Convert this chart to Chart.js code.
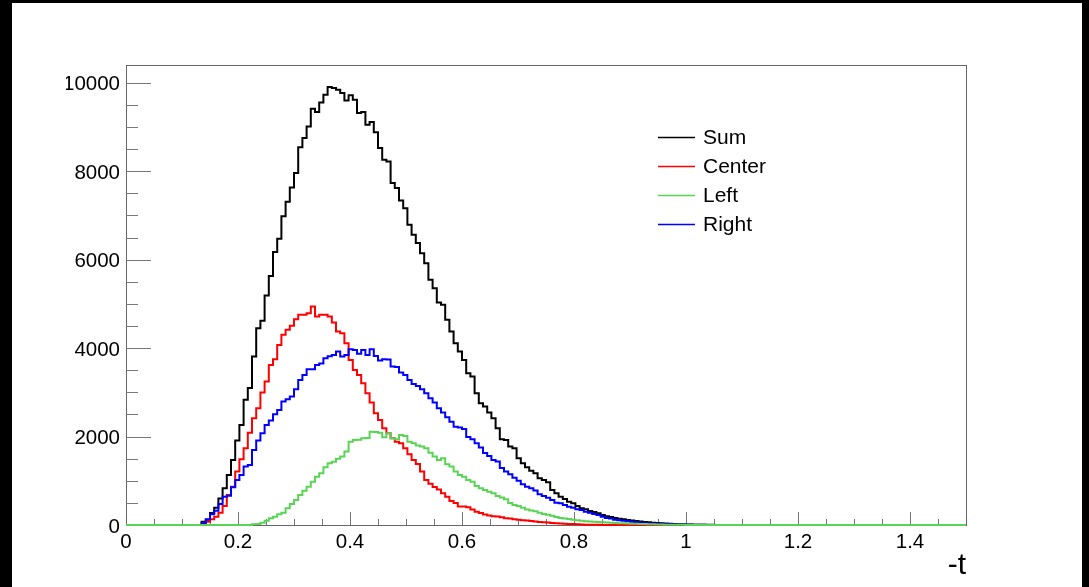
<!DOCTYPE html>
<html lang="en">
<head>
  <meta charset="UTF-8">
  <title>-t distribution</title>
  <script src="https://cdn.jsdelivr.net/npm/chart.js"></script>
  <style>
    html, body {
      margin: 0;
      background: #000;
      overflow: hidden;
    }
    .pad {
      position: absolute;
      left: 12px;
      top: 3px;
      width: 1070px;
      height: 584px;
      background: #fff;
    }
  </style>
</head>
<body>

<div class="pad">
  <canvas id="tChart" width="1070" height="584"></canvas>
</div>

<script>
  // histogram binning: 200 bins from 0 to 1.5
  const nBins = 200;
  const binWidth = 0.0075;

  // bin contents, starting at bin index *Start
  const sumStart = 18;
  const sumValues = [75, 120, 270, 390, 600, 830, 1130, 1470, 1910, 2260,
    2830, 3100, 3810, 4450, 4620, 5190, 5630, 6170, 6470, 6980,
    7310, 7630, 7960, 8540, 8750, 9010, 9410, 9340, 9550, 9730,
    9900, 9880, 9840, 9765, 9600, 9715, 9615, 9314, 9336, 9050,
    9110, 8877, 8522, 8258, 8220, 7730, 7617, 7338, 7164, 6787,
    6561, 6373, 6146, 5920, 5543, 5355, 5030, 4977, 4638, 4374,
    4110, 3921, 3733, 3431, 3356, 2979, 2753, 2677, 2541, 2413,
    2187, 1938, 1923, 1772, 1735, 1508, 1395, 1305, 1229, 1169,
    1056, 1018, 965, 792, 716, 641, 588, 528, 490, 430,
    377, 354, 317, 294, 264, 226, 200, 180, 160, 140,
    130, 115, 100, 90, 80, 70, 60, 52, 45, 38,
    32, 27, 22, 18, 15, 12, 10, 8, 6, 5, 4, 3, 2];

  const centerStart = 18;
  const centerValues = [38, 75, 128, 188, 279, 430, 679, 867, 1207, 1486,
    1735, 2088, 2413, 2640, 2993, 3243, 3620, 3748, 4072, 4299,
    4412, 4502, 4653, 4751, 4751, 4789, 4940, 4713, 4751, 4751,
    4713, 4577, 4374, 4336, 4110, 3733, 3507, 3394, 3205, 2979,
    2768, 2526, 2376, 2187, 2074, 1961, 1885, 1850, 1735, 1600,
    1471, 1380, 1207, 1018, 930, 860, 800, 716, 641, 540,
    500, 420, 420, 400, 350, 300, 270, 240, 215, 200,
    190, 175, 155, 145, 130, 120, 110, 100, 90, 80,
    70, 62, 55, 48, 42, 36, 30, 25, 20, 15,
    12, 8, 6, 4, 3, 2, 1];

  const leftStart = 30;
  const leftValues = [15, 20, 53, 98, 151, 188, 241, 279, 377, 475,
    566, 679, 777, 867, 980, 1093, 1169, 1305, 1395, 1430,
    1500, 1546, 1659, 1885, 1923, 1930, 1961, 1965, 2111, 2100,
    2088, 1984, 2074, 1961, 1938, 2036, 2014, 1885, 1848, 1795,
    1772, 1735, 1636, 1546, 1471, 1508, 1373, 1320, 1207, 1131,
    1093, 1018, 980, 882, 830, 792, 754, 716, 656, 620,
    580, 500, 450, 430, 390, 350, 330, 310, 275, 250,
    230, 210, 180, 160, 145, 135, 120, 105, 98, 85,
    80, 75, 70, 60, 55, 50, 45, 40, 38, 35,
    30, 28, 25, 20, 18, 15, 12, 10, 8, 6,
    5, 4, 3, 2, 2, 1];

  const rightStart = 18;
  const rightValues = [38, 128, 241, 324, 475, 641, 660, 852, 1018, 1131,
    1320, 1357, 1697, 1908, 2074, 2262, 2360, 2504, 2602, 2790,
    2843, 2903, 3070, 3281, 3394, 3522, 3522, 3620, 3650, 3771,
    3815, 3846, 3921, 3808, 3846, 3974, 3959, 3869, 3959, 3846,
    3974, 3823, 3718, 3748, 3740, 3582, 3575, 3446, 3394, 3281,
    3190, 3145, 3070, 2979, 2866, 2768, 2640, 2541, 2436, 2337,
    2224, 2202, 2170, 1990, 1938, 1848, 1750, 1630, 1560, 1471,
    1433, 1290, 1207, 1150, 1070, 1000, 920, 867, 830, 780,
    694, 656, 618, 566, 505, 490, 452, 415, 392, 354,
    339, 302, 279, 249, 226, 188, 160, 145, 120, 110,
    95, 85, 75, 62, 55, 45, 40, 32, 28, 22,
    20, 16, 14, 12, 10, 8, 7, 5, 4, 3, 2, 1];

  const seriesLabels = ['Sum', 'Center', 'Left', 'Right'];
  const xTitle = '-t';
  const xTicks = [0, 0.2, 0.4, 0.6, 0.8, 1, 1.2, 1.4];
  const yTicks = [0, 2000, 4000, 6000, 8000, 10000];
  const xMin = 0, xMax = 1.5, xMinorStep = 0.05;
  const yMin = 0, yMax = 10400, yMinorStep = 500;

  // ROOT-style histogram: one point at each bin's low edge plus the last edge
  function histPoints(first, values) {
    const pts = [];
    for (let i = 0; i < nBins; i++) {
      const k = i - first;
      pts.push({ x: i * binWidth, y: (k >= 0 && k < values.length) ? values[k] : 0 });
    }
    pts.push({ x: nBins * binWidth, y: pts[nBins - 1].y });
    return pts;
  }

  const font = 'Liberation Sans, Arial, sans-serif';

  // frame + inward major/minor ticks
  const frameTicks = {
    id: 'frameTicks',
    beforeDatasetsDraw(chart) {
      const { ctx, chartArea: a, scales: { x, y } } = chart;
      ctx.save();
      ctx.lineWidth = 1;
      ctx.strokeStyle = '#666';
      ctx.strokeRect(a.left + 0.5, a.top + 0.5, a.right - a.left, a.bottom - a.top);
      ctx.strokeStyle = '#777';
      ctx.beginPath();
      const nY = Math.floor(yMax / yMinorStep);
      for (let i = 0; i <= nY; i++) {
        const v = i * yMinorStep;
        const py = Math.round(y.getPixelForValue(v)) + 0.5;
        const len = yTicks.includes(v) ? 25 : 12;
        ctx.moveTo(a.left, py);
        ctx.lineTo(a.left + len, py);
      }
      const nX = Math.round((xMax - xMin) / xMinorStep);
      for (let i = 1; i < nX; i++) {
        const v = i * xMinorStep;
        const px = Math.round(x.getPixelForValue(v)) + 0.5;
        const len = (i % 4 === 0) ? 13 : 6;
        ctx.moveTo(px, a.bottom);
        ctx.lineTo(px, a.bottom - len);
      }
      ctx.stroke();
      ctx.restore();
    }
  };

  // legend in the upper right, no border
  const rootLegend = {
    id: 'rootLegend',
    afterDraw(chart) {
      const { ctx, chartArea: a } = chart;
      ctx.save();
      ctx.font = '21px ' + font;
      ctx.textBaseline = 'alphabetic';
      ctx.fillStyle = '#000';
      chart.data.datasets.forEach((ds, i) => {
        const base = a.top + 78.5 + i * 29;
        const ly = Math.round(base - 7) + 0.5;
        ctx.strokeStyle = ds.borderColor;
        ctx.lineWidth = 1.5;
        ctx.beginPath();
        ctx.moveTo(a.left + 532, ly);
        ctx.lineTo(a.left + 569, ly);
        ctx.stroke();
        ctx.fillText(ds.label, a.left + 577, base);
      });
      ctx.restore();
    }
  };

  const colors = ['#000000', '#ff0000', '#59d454', '#0000ff'];
  const starts = [sumStart, centerStart, leftStart, rightStart];
  const values = [sumValues, centerValues, leftValues, rightValues];
  const drawOrder = [3, 2, 0, 1];

  new Chart(document.getElementById('tChart'), {
    type: 'line',
    data: {
      datasets: seriesLabels.map((label, i) => ({
        label: label,
        data: histPoints(starts[i], values[i]),
        borderColor: colors[i],
        borderWidth: 2,
        stepped: true,
        pointRadius: 0,
        fill: false,
        clip: 4,
        order: drawOrder[i]
      }))
    },
    options: {
      responsive: false,
      devicePixelRatio: 1,
      animation: false,
      layout: { padding: { left: 54, right: 116, top: 62, bottom: 0 } },
      plugins: {
        legend: { display: false },
        tooltip: { enabled: false }
      },
      scales: {
        x: {
          type: 'linear',
          min: xMin,
          max: xMax,
          grid: { display: false, drawTicks: false },
          border: { display: false },
          afterBuildTicks: s => { s.ticks = xTicks.map(v => ({ value: v })); },
          ticks: {
            maxRotation: 0,
            autoSkip: false,
            padding: 5,
            color: '#000',
            font: { family: font, size: 20.5 },
            callback: v => String(Number(v.toFixed(1)))
          },
          title: {
            display: true,
            text: xTitle,
            align: 'end',
            color: '#000',
            font: { family: font, size: 30 },
            padding: { top: 0, bottom: 3 }
          },
          afterFit: s => { s.height = 62; }
        },
        y: {
          min: yMin,
          max: yMax,
          grid: { display: false, drawTicks: false },
          border: { display: false },
          afterBuildTicks: s => { s.ticks = yTicks.map(v => ({ value: v })); },
          ticks: {
            autoSkip: false,
            padding: 6,
            labelOffset: 2,
            color: '#000',
            font: { family: font, size: 20.5 },
            callback: v => String(v)
          },
          afterFit: s => { s.width = 60; }
        }
      }
    },
    plugins: [frameTicks, rootLegend]
  });
</script>

</body>
</html>
